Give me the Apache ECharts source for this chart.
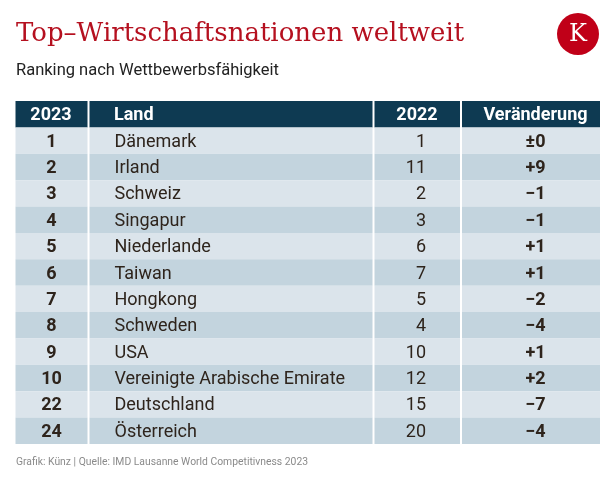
<!DOCTYPE html>
<html>
<head>
<meta charset="utf-8">
<script src="https://cdn.jsdelivr.net/npm/echarts@6/dist/echarts.min.js"></script>
<style>
html,body{margin:0;padding:0;background:#fff;}
#chart{width:616px;height:477px;}
</style>
</head>
<body>
<div id="chart"></div>
<script>
// ---- data ----
const headers = ['2023', 'Land', '2022', 'Veränderung'];
const rank2023 = [1, 2, 3, 4, 5, 6, 7, 8, 9, 10, 22, 24];
const countries = ['Dänemark', 'Irland', 'Schweiz', 'Singapur', 'Niederlande', 'Taiwan', 'Hongkong', 'Schweden', 'USA', 'Vereinigte Arabische Emirate', 'Deutschland', 'Österreich'];
const rank2022 = [1, 11, 2, 3, 6, 7, 5, 4, 10, 12, 15, 20];
const changes = ['±0', '+9', '−1', '−1', '+1', '+1', '−2', '−4', '+1', '+2', '−7', '−4'];

// ---- layout / style ----
const colEdges = [[15.5, 87.5], [89.5, 372.5], [374.5, 460], [462, 600]];
const colText = [
  { x: 51.5, align: 'center', bold: true },
  { x: 114.5, align: 'left', bold: false },
  { x: 426, align: 'right', bold: false },
  { x: 535.5, align: 'center', bold: true }
];
const headerText = [
  { x: 51, align: 'center' },
  { x: 114, align: 'left' },
  { x: 417, align: 'center' },
  { x: 535.5, align: 'center' }
];
const FONT = 'Roboto, "Noto Sans", sans-serif';
const C_HEAD = '#0e3a52', C_LIGHT = '#dbe4eb', C_DARK = '#c3d4de', C_TEXT = '#2e241c';

const rowCats = ['header'].concat(countries);
const cells = [];
for (let c = 0; c < 4; c++) {
  cells.push([c, 0, headers[c]]);
  for (let r = 0; r < countries.length; r++) {
    const vals = [rank2023[r], countries[r], rank2022[r], changes[r]];
    cells.push([c, r + 1, String(vals[c])]);
  }
}

const chart = echarts.init(document.getElementById('chart'), null, { renderer: 'canvas' });
chart.setOption({
  animation: false,
  backgroundColor: '#ffffff',
  grid: { left: 0, right: 0, top: 101, bottom: 33, containLabel: false },
  xAxis: { type: 'value', min: 0, max: 616, show: false },
  yAxis: { type: 'category', data: rowCats, inverse: true, show: false },
  graphic: [
    { type: 'text', left: 16, top: 21, style: { text: 'Top–Wirtschaftsnationen weltweit', font: 'normal 26px "DejaVu Serif", serif', fill: '#b5101f' } },
    { type: 'text', left: 16, top: 62.5, style: { text: 'Ranking nach Wettbewerbsfähigkeit', font: 'normal 16.5px ' + FONT, fill: '#222222' } },
    { type: 'circle', shape: { cx: 578, cy: 34, r: 21 }, style: { fill: '#c00018' } },
    { type: 'text', x: 578, y: 35, style: { text: 'K', font: 'normal 24px "DejaVu Serif", serif', fill: '#ffffff', align: 'center', verticalAlign: 'middle' } },
    { type: 'text', x: 16, y: 462.5, scaleX: 0.9, style: { text: 'Grafik: Künz | Quelle: IMD Lausanne World Competitivness 2023', font: 'normal 11.5px ' + FONT, fill: '#8a8a8a', align: 'left', verticalAlign: 'middle' } }
  ],
  series: [{
    type: 'custom',
    coordinateSystem: 'cartesian2d',
    data: cells,
    encode: { x: 0, y: 1 },
    renderItem: function (params, api) {
      const c = api.value(0), r = api.value(1);
      const txt = cells[params.dataIndex][2];
      const h = api.size([0, 1])[1];
      const p0 = api.coord([colEdges[c][0], r]);
      const p1 = api.coord([colEdges[c][1], r]);
      const isHead = r === 0;
      const fill = isHead ? C_HEAD : (r % 2 === 1 ? C_LIGHT : C_DARK);
      const t = isHead ? headerText[c] : colText[c];
      const tx = api.coord([t.x, r])[0];
      const bold = isHead || colText[c].bold;
      return {
        type: 'group',
        children: [
          { type: 'rect', shape: { x: p0[0], y: p0[1] - h / 2, width: p1[0] - p0[0], height: h }, style: { fill: fill } },
          { type: 'text', x: tx, y: p0[1] + 1.5, style: { text: txt, fill: isHead ? '#ffffff' : C_TEXT, font: (bold ? 'bold ' : 'normal ') + '18px ' + FONT, align: t.align, verticalAlign: 'middle' } }
        ]
      };
    }
  }]
});
</script>
</body>
</html>
